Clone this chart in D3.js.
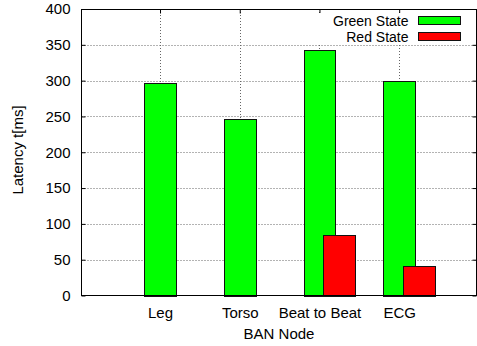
<!DOCTYPE html>
<html>
<head>
<meta charset="utf-8">
<script src="https://cdn.jsdelivr.net/npm/d3@7"></script>
<style>
  html, body { margin: 0; padding: 0; background: #fff; }
  svg { display: block; }
  text { font-family: "Liberation Sans", Arial, Helvetica, sans-serif; fill: #000; }
</style>
</head>
<body>
<svg id="chart" width="477" height="346"></svg>
<script>
// Latency per BAN node, green vs red state
const categories = ["Leg", "Torso", "Beat to Beat", "ECG"];
const greenState = [297, 247, 343, 299];
const redState = [null, null, 85, 41];
const seriesNames = ["Green State", "Red State"];
const seriesColors = ["#00ff00", "#ff0000"];
const yTickValues = [0, 50, 100, 150, 200, 250, 300, 350, 400];

const svg = d3.select("#chart");
const fontSize = 15;
const legendFontSize = 14;

const plot = { left: 81.5, right: 476.5, top: 9, bottom: 295.5 };

const x = d3.scaleLinear().domain([-0.985, 3.97]).range([plot.left, plot.right]);
const y = d3.scaleLinear().domain([0, 400]).range([plot.bottom, plot.top]);

// bar geometry in category units
const barWidth = 0.4;
const greenOffset = -0.2;
const redOffset = 0.05;

const gridColor = "#666";
const tickLen = 4;
const xTickValues = categories.map((c, i) => i);

// horizontal grid
svg.append("g").selectAll("line")
  .data(yTickValues.filter(v => v > 0 && v < 400))
  .join("line")
  .attr("x1", plot.left).attr("x2", plot.right)
  .attr("y1", d => Math.round(y(d)) + 0.5).attr("y2", d => Math.round(y(d)) + 0.5)
  .attr("stroke", gridColor).attr("stroke-width", 1)
  .attr("stroke-dasharray", "1,2");

// vertical grid
svg.append("g").selectAll("line")
  .data(xTickValues)
  .join("line")
  .attr("x1", d => Math.round(x(d)) + 0.5).attr("x2", d => Math.round(x(d)) + 0.5)
  .attr("y1", plot.top).attr("y2", plot.bottom)
  .attr("stroke", gridColor).attr("stroke-width", 1)
  .attr("stroke-dasharray", "1,2");

// x ticks (bottom, mirrored on top) sit underneath the bars
const xAxisBottom = d3.axisBottom(x).tickValues(xTickValues)
  .tickFormat(i => categories[i]).tickSizeInner(-tickLen).tickSizeOuter(0).tickPadding(12);
const gx = svg.append("g").attr("transform", `translate(0,${plot.bottom})`).call(xAxisBottom);
gx.select(".domain").remove();
gx.selectAll("text").attr("font-size", fontSize).attr("font-family", null);
gx.selectAll("line").attr("stroke", "#000");

const xAxisTop = d3.axisTop(x).tickValues(xTickValues).tickSizeInner(-tickLen).tickSizeOuter(0).tickFormat("");
const gxt = svg.append("g").attr("transform", `translate(0,${plot.top + 0.5})`).call(xAxisTop);
gxt.select(".domain").remove();
gxt.selectAll("line").attr("stroke", "#000");

// bars
const series = [greenState, redState];
const offsets = [greenOffset, redOffset];
series.forEach((vals, s) => {
  svg.append("g").selectAll("rect")
    .data(vals.map((v, i) => ({ i, v })).filter(d => d.v != null))
    .join("rect")
    .attr("x", d => Math.round(x(d.i + offsets[s])) + 0.5)
    .attr("width", d => Math.round(x(d.i + offsets[s] + barWidth)) - Math.round(x(d.i + offsets[s])))
    .attr("y", d => Math.round(y(d.v)) + 0.5)
    .attr("height", d => Math.round(y(0)) - Math.round(y(d.v)))
    .attr("fill", seriesColors[s])
    .attr("stroke", "#111").attr("stroke-width", 1);
});

// legend (opaque background over the grid)
const legend = svg.append("g");
legend.append("rect")
  .attr("x", 316).attr("y", 13).attr("width", 160).attr("height", 30)
  .attr("fill", "#fff");
const legendRows = [25.5, 41.5];
const keyTops = [16.5, 32.5];
seriesNames.forEach((name, s) => {
  legend.append("text")
    .attr("x", 408.5).attr("y", legendRows[s])
    .attr("text-anchor", "end")
    .attr("font-size", legendFontSize)
    .text(name);
  legend.append("rect")
    .attr("x", 418.5).attr("y", keyTops[s])
    .attr("width", 42).attr("height", 8)
    .attr("fill", seriesColors[s])
    .attr("stroke", "#111").attr("stroke-width", 1);
});

// plot border
svg.append("rect")
  .attr("x", plot.left).attr("y", plot.top + 0.5)
  .attr("width", plot.right - plot.left).attr("height", plot.bottom - plot.top - 0.5)
  .attr("fill", "none").attr("stroke", "#000").attr("stroke-width", 1);

// y axis (left) and mirrored ticks (right)
const yAxisLeft = d3.axisLeft(y).tickValues(yTickValues).tickSizeInner(-tickLen).tickSizeOuter(0).tickPadding(11);
const gy = svg.append("g").attr("transform", `translate(${plot.left},0)`).call(yAxisLeft);
gy.select(".domain").remove();
gy.selectAll("text").attr("font-size", fontSize).attr("font-family", null);
gy.selectAll("line").attr("stroke", "#000");

const yAxisRight = d3.axisRight(y).tickValues(yTickValues).tickSizeInner(-tickLen).tickSizeOuter(0).tickFormat("");
const gyr = svg.append("g").attr("transform", `translate(${plot.right},0)`).call(yAxisRight);
gyr.select(".domain").remove();
gyr.selectAll("line").attr("stroke", "#000");

// axis titles
svg.append("text")
  .attr("x", (plot.left + plot.right) / 2).attr("y", 338.5)
  .attr("text-anchor", "middle").attr("font-size", fontSize)
  .text("BAN Node");

svg.append("text")
  .attr("transform", `translate(22.5,150) rotate(-90)`)
  .attr("text-anchor", "middle").attr("font-size", fontSize)
  .text("Latency t[ms]");
</script>
</body>
</html>
